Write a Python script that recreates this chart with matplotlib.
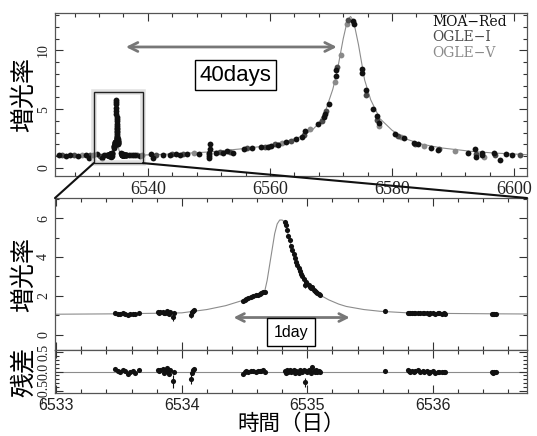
import matplotlib
matplotlib.use('Agg')
import matplotlib.pyplot as plt
from matplotlib.patches import Rectangle, ConnectionPatch
from matplotlib.ticker import MultipleLocator, FormatStrFormatter
import numpy as np

plt.rcParams['font.family'] = ['Liberation Serif', 'Noto Sans CJK JP']
cjk = ['Noto Sans CJK JP', 'DejaVu Sans']

# ---- data ----
# model light curve (time [d], magnification)
curve_t = [6524.8, 6528, 6531, 6533.0, 6533.5, 6534.0, 6534.2, 6534.35, 6534.5, 6534.6,
           6534.66, 6534.68, 6534.70, 6534.72, 6534.74, 6534.76, 6534.78, 6534.80, 6534.82,
           6534.85, 6534.88, 6534.90, 6534.93, 6534.96, 6535.00, 6535.04, 6535.08, 6535.12,
           6535.17, 6535.25, 6535.31, 6535.45, 6535.58, 6535.8, 6536.1, 6536.5, 6536.8,
           6540, 6545, 6550, 6555, 6558, 6560, 6563, 6565, 6567, 6568, 6569.2, 6570.3, 6571,
           6572, 6572.7, 6573.2, 6573.7, 6574.5, 6575.5, 6576.5, 6578, 6580, 6582, 6585,
           6588, 6593, 6597, 6602.1]
curve_a = [1.05, 1.05, 1.05, 1.06, 1.08, 1.13, 1.30, 1.50, 1.80, 2.05,
           2.22, 2.8, 3.6, 4.4, 5.2, 5.7, 5.9, 5.9, 5.78,
           5.10, 4.35, 3.95, 3.42, 3.00, 2.65, 2.38, 2.16, 1.98,
           1.80, 1.58, 1.46, 1.30, 1.21, 1.13, 1.10, 1.08, 1.07,
           1.10, 1.20, 1.35, 1.60, 1.78, 1.95, 2.30, 2.65, 3.25, 3.8, 5.0, 6.7, 8.2,
           11.0, 12.6, 12.9, 12.5, 10.5, 7.5, 5.8, 4.2, 3.2, 2.5, 2.0,
           1.7, 1.4, 1.25, 1.12]

# MOA points around the anomaly (middle + residual panels)
anom_t = [6533.47, 6533.49, 6533.51, 6533.53, 6533.55, 6533.57, 6533.59, 6533.61, 6533.63, 6533.66,
          6533.81, 6533.82, 6533.83, 6533.85, 6533.86, 6533.87, 6533.88, 6533.89, 6533.90, 6533.91, 6533.93, 6533.94,
          6534.07, 6534.08, 6534.09, 6534.10,
          6534.49, 6534.50, 6534.51, 6534.53, 6534.55, 6534.57, 6534.59, 6534.61, 6534.62, 6534.63, 6534.65, 6534.66,
          6534.82, 6534.83, 6534.84, 6534.85, 6534.86, 6534.87, 6534.88, 6534.89, 6534.90, 6534.91,
          6534.92, 6534.93, 6534.94, 6534.95, 6534.96, 6534.97, 6534.98, 6534.99, 6535.00, 6535.01,
          6535.02, 6535.03, 6535.04, 6535.05, 6535.06, 6535.07, 6535.08, 6535.09, 6535.10,
          6535.62,
          6535.80, 6535.81, 6535.82, 6535.83, 6535.85, 6535.86, 6535.88, 6535.90, 6535.92, 6535.93,
          6535.95, 6535.97, 6535.98, 6536.00, 6536.02, 6536.04, 6536.05, 6536.07, 6536.09, 6536.10,
          6536.47, 6536.48, 6536.49, 6536.50]
anom_a = [1.11, 1.08, 1.07, 1.10, 1.09, 1.03, 1.06, 1.08, 1.05, 1.10,
          1.16, 1.13, 1.15, 1.18, 1.10, 1.14, 1.20, 1.12, 1.08, 1.17, 0.90, 1.14,
          1.00, 1.17, 1.24, 1.28,
          1.72, 1.78, 1.85, 1.90, 1.95, 2.00, 2.03, 2.07, 2.10, 2.13, 2.18, 2.22,
          5.80, 5.65, 5.40, 5.10, 4.85, 4.55, 4.35, 4.15, 3.95, 3.75,
          3.58, 3.42, 3.28, 3.15, 3.02, 2.88, 2.55, 2.70, 2.62, 2.55,
          2.48, 2.42, 2.48, 2.30, 2.25, 2.20, 2.15, 2.10, 2.06,
          1.23,
          1.14, 1.12, 1.10, 1.13, 1.11, 1.12, 1.14, 1.10, 1.13, 1.11,
          1.12, 1.07, 1.10, 1.12, 1.08, 1.10, 1.11, 1.09, 1.10, 1.08,
          1.08, 1.05, 1.07, 1.06]
anom_res = [0.06, 0.01, -0.01, 0.03, 0.02, -0.07, -0.02, 0.01, -0.04, 0.03,
            0.05, 0.02, 0.04, 0.07, -0.03, 0.01, 0.08, -0.01, -0.06, 0.04, -0.25, 0.0,
            -0.19, -0.03, 0.03, 0.06,
            -0.06, -0.02, 0.02, 0.0, 0.01, 0.02, 0.0, 0.01, 0.01, 0.02, 0.03, 0.0,
            0.02, -0.03, 0.04, -0.01, 0.03, -0.02, 0.01, 0.05, -0.04, 0.02,
            0.0, -0.03, 0.04, 0.01, -0.02, 0.03, -0.28, 0.02, -0.01, 0.04,
            0.01, -0.03, 0.12, 0.02, -0.02, 0.03, 0.0, 0.02, -0.01,
            0.02,
            0.03, 0.01, -0.02, 0.02, 0.0, 0.01, 0.03, -0.01, 0.02, 0.0,
            0.01, -0.05, -0.01, 0.01, -0.03, -0.01, 0.0, -0.02, -0.01, -0.02,
            0.0, -0.03, -0.01, -0.02]
anom_err = [0.03] * len(anom_t)
anom_err[20] = 0.17   # 6533.93
anom_err[22] = 0.14   # 6534.07
anom_err[54] = 0.12   # 6534.98

# other points of the full light curve (time, magnification, source)
base_t = [6525.4, 6526.0, 6526.6, 6527.3, 6527.9, 6528.5, 6529.2, 6529.8, 6530.3, 6530.5, 6531.0,
          6531.6, 6532.2, 6532.5, 6532.8, 6533.2,
          6536.9, 6537.2, 6537.5, 6537.9, 6538.3, 6538.7, 6539.1,
          6540.5, 6540.9, 6541.3, 6542.5, 6543.6, 6544.0, 6544.6, 6545.2, 6545.8, 6546.5, 6547.5,
          6548.4, 6550.0, 6550.05, 6550.1, 6550.15, 6550.2, 6550.1, 6551.2, 6551.8, 6552.3, 6552.9,
          6553.5, 6553.9, 6555.8, 6556.3, 6557.0, 6558.6, 6559.2, 6559.7,
          6560.2, 6560.8, 6561.3, 6561.9, 6562.6, 6563.5, 6564.3, 6565.2, 6565.6, 6565.8, 6566.5,
          6567.9, 6568.5, 6568.8, 6569.0, 6569.1, 6569.7, 6570.6, 6570.8, 6570.9, 6571.0, 6571.6,
          6572.6, 6572.8, 6573.6, 6573.7,
          6575.0, 6575.1, 6575.7, 6575.8, 6576.8, 6577.5, 6577.6, 6577.8, 6577.9, 6580.5, 6580.9,
          6581.5, 6582.0, 6583.6, 6583.8, 6584.3, 6585.3, 6586.4, 6587.6, 6587.7, 6590.3, 6592.4,
          6593.6, 6593.7, 6593.8, 6594.7, 6594.8, 6595.0, 6596.7, 6596.8, 6597.6, 6598.7, 6599.6,
          6601.0]
base_a = [1.05, 1.10, 1.02, 1.08, 1.12, 1.00, 1.05, 1.10, 0.85, 1.10, 1.06,
          1.15, 1.02, 0.80, 1.12, 1.05,
          1.08, 1.06, 1.12, 1.05, 1.10, 1.03, 1.08,
          1.15, 0.85, 1.12, 1.10, 1.05, 1.15, 1.18, 1.10, 1.20, 1.15, 1.25,
          1.20, 0.80, 1.00, 1.30, 1.60, 2.00, 1.15, 1.25, 1.35, 1.30, 1.40,
          1.35, 1.30, 1.60, 1.72, 1.65, 1.75, 1.80, 1.75,
          1.90, 2.00, 1.95, 2.10, 2.20, 2.30, 2.45, 2.60, 2.80, 3.10, 3.30,
          3.70, 4.00, 4.30, 4.60, 4.80, 5.40, 7.30, 7.80, 8.30, 8.60, 9.60,
          12.3, 12.6, 12.5, 12.3,
          8.4, 8.1, 6.6, 6.2, 5.0, 4.4, 4.1, 3.8, 3.6, 2.9, 2.7,
          2.6, 2.5, 2.15, 2.0, 2.05, 1.85, 1.7, 1.5, 1.6, 1.4, 1.3,
          1.6, 1.2, 0.95, 1.3, 1.1, 0.9, 1.25, 1.1, 0.7, 1.2, 1.1,
          1.12]
base_src = ['M', 'I', 'M', 'M', 'I', 'M', 'V', 'M', 'M', 'I', 'M',
            'M', 'I', 'M', 'M', 'I',
            'M', 'I', 'M', 'M', 'I', 'M', 'M',
            'M', 'M', 'I', 'M', 'M', 'I', 'M', 'M', 'I', 'M', 'V',
            'M', 'M', 'M', 'M', 'M', 'M', 'I', 'M', 'I', 'M', 'M',
            'I', 'M', 'M', 'I', 'M', 'M', 'I', 'M',
            'M', 'I', 'M', 'V', 'M', 'I', 'M', 'M', 'I', 'M', 'V',
            'M', 'I', 'M', 'M', 'I', 'M', 'V', 'M', 'M', 'I', 'V',
            'V', 'I', 'M', 'M',
            'M', 'M', 'M', 'I', 'M', 'M', 'I', 'M', 'V', 'M', 'I',
            'V', 'M', 'M', 'I', 'M', 'V', 'M', 'M', 'I', 'V', 'M',
            'M', 'I', 'M', 'M', 'M', 'V', 'M', 'I', 'M', 'M', 'M',
            'I']

src_names = {'M': 'MOA\u2212Red', 'I': 'OGLE\u2212I', 'V': 'OGLE\u2212V'}
src_colors = {'M': '#111111', 'I': '#4a4a4a', 'V': '#8a8a8a'}

# ---- figure ----
fig = plt.figure(figsize=(5.37, 4.36), dpi=100)
ax1 = fig.add_axes([0.1024, 0.5963, 0.879, 0.374])
ax2 = fig.add_axes([0.1024, 0.1972, 0.879, 0.3486])
ax3 = fig.add_axes([0.1024, 0.0986, 0.879, 0.0986], sharex=ax2)

curve_col = '#8c8c8c'

# top panel: whole event
ax1.plot(curve_t, curve_a, color=curve_col, lw=0.8, zorder=1)
for s in ['V', 'I', 'M']:
    tt = [t for t, c in zip(base_t, base_src) if c == s]
    aa = [a for a, c in zip(base_a, base_src) if c == s]
    ax1.plot(tt, aa, 'o', ms=4.2, color=src_colors[s], mec='none', zorder=3)
ax1.plot(anom_t, anom_a, 'o', ms=4.2, color=src_colors['M'], mec='none', zorder=3)
ax1.set_xlim(6524.8, 6602.1)
ax1.set_ylim(-0.7, 13.2)
ax1.xaxis.set_major_locator(MultipleLocator(20))
ax1.xaxis.set_minor_locator(MultipleLocator(4))
ax1.xaxis.set_major_formatter(FormatStrFormatter('%d'))
ax1.yaxis.set_major_locator(MultipleLocator(5))
ax1.yaxis.set_minor_locator(MultipleLocator(1))
ax1.set_ylabel('増光率', family=cjk, fontsize=18, labelpad=0)

for i, s in enumerate(['M', 'I', 'V']):
    ax1.text(0.80, 0.945 - 0.095 * i, src_names[s], transform=ax1.transAxes,
             color=src_colors[s], family='DejaVu Serif', fontsize=10, va='center')

ax1.annotate('', xy=(6571.4, 10.3), xytext=(6535.95, 10.3),
             arrowprops=dict(arrowstyle='<->', color='#777777', lw=2, mutation_scale=16))
ax1.text(6554.3, 7.9, '40days', ha='center', va='center', fontsize=16, family='Liberation Sans',
         bbox=dict(boxstyle='square,pad=0.2', fc='white', ec='black', lw=1))

# zoom box with a soft shadow
ax1.add_patch(Rectangle((6531.15, 0.4), 8.05, 6.1, fill=False, ec='#cccccc', lw=4, alpha=0.6, zorder=4))
ax1.add_patch(Rectangle((6531.15, 0.4), 8.05, 6.1, fill=False, ec='#222222', lw=1, zorder=5))

# middle panel: zoom on anomaly
ax2.plot(curve_t, curve_a, color=curve_col, lw=0.8, zorder=1)
ax2.errorbar(anom_t, anom_a, yerr=anom_err, fmt='o', ms=3.7, color='#111111', mec='none',
             elinewidth=0.8, capsize=0, zorder=3)
ax2.set_xlim(6532.99, 6536.75)
ax2.set_ylim(-0.78, 7.03)
ax2.yaxis.set_major_locator(MultipleLocator(2))
ax2.yaxis.set_minor_locator(MultipleLocator(1))
ax2.xaxis.set_major_locator(MultipleLocator(1))
ax2.xaxis.set_minor_locator(MultipleLocator(0.2))
ax2.tick_params(axis='x', labelbottom=False)
ax2.set_ylabel('増光率', family=cjk, fontsize=18, labelpad=0)

ax2.annotate('', xy=(6535.36, 0.89), xytext=(6534.39, 0.89),
             arrowprops=dict(arrowstyle='<->', color='#777777', lw=2, mutation_scale=14))
ax2.text(6534.87, 0.13, '1day', ha='center', va='center', fontsize=11.5, family='Liberation Sans',
         bbox=dict(boxstyle='square,pad=0.4', fc='white', ec='black', lw=1))

# residual panel
ax3.axhline(0, color=curve_col, lw=0.8, zorder=1)
ax3.errorbar(anom_t, anom_res, yerr=anom_err, fmt='o', ms=3.7, color='#111111', mec='none',
             elinewidth=0.8, capsize=0, zorder=3)
ax3.set_ylim(-0.55, 0.55)
ax3.yaxis.set_major_locator(MultipleLocator(0.5))
ax3.yaxis.set_minor_locator(MultipleLocator(0.1))
ax3.xaxis.set_major_formatter(FormatStrFormatter('%d'))
ax3.set_ylabel('残差', family=cjk, fontsize=18, labelpad=0)
ax3.set_xlabel('時間（日）', family=cjk, fontsize=15.5, labelpad=0)

# tick styling, SM-like
for ax in (ax1, ax2, ax3):
    ax.tick_params(which='both', direction='in', top=True, right=True, colors='#333333')
    ax.tick_params(which='major', length=6, width=0.8)
    ax.tick_params(which='minor', length=3, width=0.8)
    for sp in ax.spines.values():
        sp.set_color('#555555')
        sp.set_linewidth(0.9)
    for lab in ax.get_yticklabels():
        lab.set_rotation(90)
        lab.set_va('center')
        lab.set_fontsize(10)
        lab.set_color('#222222')
for lab in ax1.get_xticklabels():
    lab.set_fontsize(13)
    lab.set_color('#222222')
for lab in ax3.get_xticklabels():
    lab.set_fontsize(11.5)
    lab.set_family('Liberation Sans')
    lab.set_color('#222222')

# lines from the zoom box to the middle panel
for xa, xf in ((6531.15, 0.0), (6539.2, 1.0)):
    con = ConnectionPatch(xyA=(xa, 0.4), coordsA=ax1.transData,
                          xyB=(xf, 1.0), coordsB=ax2.transAxes,
                          color='#111111', lw=1.5, zorder=10)
    fig.add_artist(con)

fig.savefig('out.png', dpi=100)
